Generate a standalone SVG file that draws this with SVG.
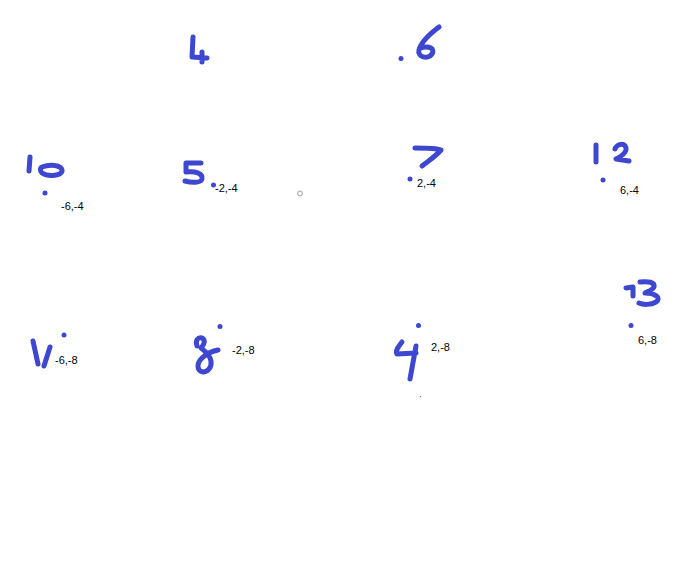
<svg xmlns="http://www.w3.org/2000/svg" width="696" height="564" viewBox="0 0 696 564">
<style>
.ink{fill:none;stroke:#3d47cf;stroke-width:5;stroke-linecap:round;stroke-linejoin:round}
.dot{fill:#3d47cf}
.lbl{font-family:"Liberation Sans",Arial,sans-serif;font-size:11px;fill:#000}
</style>
<rect width="696" height="564" fill="#fff"/>
<g id="n4"><path class="ink" d="M193,37 L192,57 L207,58 M202,52 L202,62"/></g>
<g id="n6"><circle class="dot" cx="401" cy="58.5" r="2.5"/><path class="ink" d="M439,27 C431,33 421,42 419,50 C417,57 428,60 432,54 C435,49 430,45 420,48"/></g>
<g id="n10"><path class="ink" d="M30,157 L29,171 M42,167 C50,164 61,165 62,170 C63,176 48,177 42,173 C40,171 40,168 42,167"/><circle class="dot" cx="45" cy="193" r="2.5"/><text class="lbl" x="61" y="210">-6,-4</text></g>
<g id="n5"><path class="ink" d="M201,163 L186,163 L186,172 C195,171 203,173 202,179 C201,183 192,183 185,181"/><circle class="dot" cx="213.5" cy="185" r="2.5"/><text class="lbl" x="215" y="192">-2,-4</text></g>
<circle cx="300" cy="193.5" r="2.3" fill="none" stroke="#b5b5b5" stroke-width="1.2"/>
<g id="n7"><path class="ink" d="M415,148 C425,148 436,148 441,150 C435,157 428,161 422,166"/><circle class="dot" cx="410" cy="179" r="2.5"/><text class="lbl" x="417" y="187">2,-4</text></g>
<g id="n12"><path class="ink" d="M596,145 L596,162 M615,149 C617,143 627,142 626,150 C625,154 618,158 616,159 L629,161"/><circle class="dot" cx="603" cy="180" r="2.5"/><text class="lbl" x="620" y="194">6,-4</text></g>
<g id="n11"><path class="ink" d="M33,341 L38,364 M50,347 L44,366"/><circle class="dot" cx="64" cy="335" r="2.5"/><text class="lbl" x="55" y="364">-6,-8</text></g>
<g id="n8"><path class="ink" d="M197,346 C195,340 198,337 202,338 C206,340 204,345 201,348 C205,351 210,355 211,361 C212,368 207,372 203,372 C197,371 196,364 202,358 C207,353 213,351 218,350"/><circle class="dot" cx="220" cy="326.5" r="2.5"/><text class="lbl" x="232" y="354">-2,-8</text></g>
<g id="n9"><path class="ink" d="M402,342 C398,347 395,351 397,354 L416,353 M416,346 L410,379"/><circle class="dot" cx="418.5" cy="325.5" r="2.5"/><text class="lbl" x="431" y="351">2,-8</text><circle cx="420.5" cy="396.5" r="0.7" fill="#777"/></g>
<g id="n13"><path class="ink" d="M626,288 L633,287 L633,296 M640,282 C648,281 655,282 654,287 C652,291 645,292 645,293 C655,293 662,298 656,302 C651,305 643,305 639,303"/><circle class="dot" cx="631" cy="325.5" r="2.5"/><text class="lbl" x="638" y="344">6,-8</text></g>
</svg>
